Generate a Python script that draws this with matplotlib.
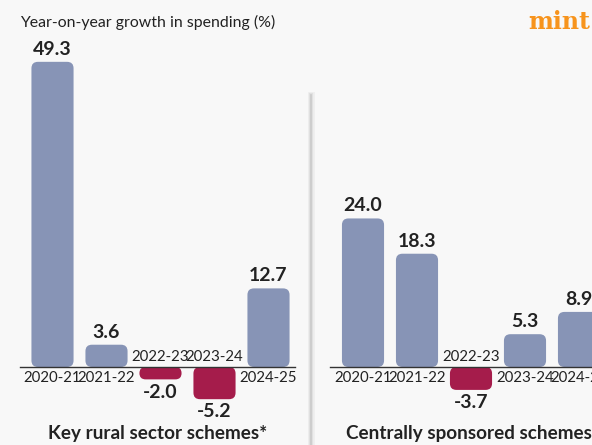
import matplotlib.pyplot as plt
from matplotlib.patches import FancyBboxPatch

# data
years = ['2020-21', '2021-22', '2022-23', '2023-24', '2024-25']
rural = [49.3, 3.6, -2.0, -5.2, 12.7]
central = [24.0, 18.3, -3.7, 5.3, 8.9]

POS = '#8794b6'
NEG = '#a51c4b'
BG = '#f8f8f8'
TXT = '#222222'

plt.rcParams['font.family'] = ['Lato', 'DejaVu Sans']

fig = plt.figure(figsize=(5.92, 4.45), dpi=100, facecolor=BG)

# px -> data: 54 px per category, 6.19 px per percentage point
PX_X = 54.0
PX_Y = 6.19
ylo = -78 / PX_Y
yhi = 367 / PX_Y


def panel(x0_px, x1_px, first_px, line_from, line_to, vals, title, title_x):
    ax = fig.add_axes([x0_px / 592, 0, (x1_px - x0_px) / 592, 1])
    ax.set_facecolor('none')
    ax.set_xlim(-(first_px - x0_px) / PX_X, (x1_px - first_px) / PX_X)
    ax.set_ylim(ylo, yhi)
    ax.axis('off')
    bars = ax.bar(range(len(vals)), vals, width=0.78,
                  color=[POS if v >= 0 else NEG for v in vals])
    aspect = PX_X / PX_Y
    for b in bars:
        b.set_visible(False)
        x, y = b.get_x(), b.get_y()
        w, h = b.get_width(), b.get_height()
        if h < 0:
            y, h = y + h, -h
        r = min(0.12, h / aspect / 2)
        p = FancyBboxPatch((x, y), w, h,
                           boxstyle='round,pad=0,rounding_size=%f' % r,
                           mutation_aspect=aspect,
                           fc=b.get_facecolor(), ec='none')
        ax.add_patch(p)
    ax.plot([(line_from - first_px) / PX_X, (line_to - first_px) / PX_X],
            [0, 0], color='#333333', lw=1.0)
    for i, v in enumerate(vals):
        if v >= 0:
            ax.annotate('%.1f' % v, (i, v), xytext=(0, 3),
                        textcoords='offset points', ha='center', va='bottom',
                        fontsize=14, fontweight='bold', color=TXT)
            ax.annotate(years[i], (i, 0), xytext=(0, -3),
                        textcoords='offset points', ha='center', va='top',
                        fontsize=10.8, color=TXT)
        else:
            ax.annotate('%.1f' % v, (i, v), xytext=(0, -3),
                        textcoords='offset points', ha='center', va='top',
                        fontsize=14, fontweight='bold', color=TXT)
            ax.annotate(years[i], (i, 0), xytext=(0, 2),
                        textcoords='offset points', ha='center', va='bottom',
                        fontsize=10.8, color=TXT)
    fig.text(title_x / 592, 1 - 433 / 445, title, ha='left', va='center',
             fontsize=13.6, fontweight='bold', color=TXT)
    return ax


panel(0, 311, 52.5, 20, 295, rural, 'Key rural sector schemes*', 48)
panel(311, 592, 363, 330, 600, central, 'Centrally sponsored schemes', 346)

# separator with soft shadow
for lw, a in [(5, 0.08), (3, 0.14), (1.2, 0.25)]:
    fig.add_artist(plt.Line2D([311 / 592, 311 / 592], [0, 1 - 95 / 445],
                              color='#888888', lw=lw, alpha=a))

fig.text(20 / 592, 1 - 22 / 445, 'Year-on-year growth in spending (%)',
         ha='left', va='center', fontsize=11.4, color=TXT)
fig.text(590 / 592, 1 - 22 / 445, 'mint', ha='right', va='center',
         fontsize=17, fontweight='bold', color='#f7941d',
         family='DejaVu Serif')

fig.savefig('out.png', dpi=100, facecolor=BG)
